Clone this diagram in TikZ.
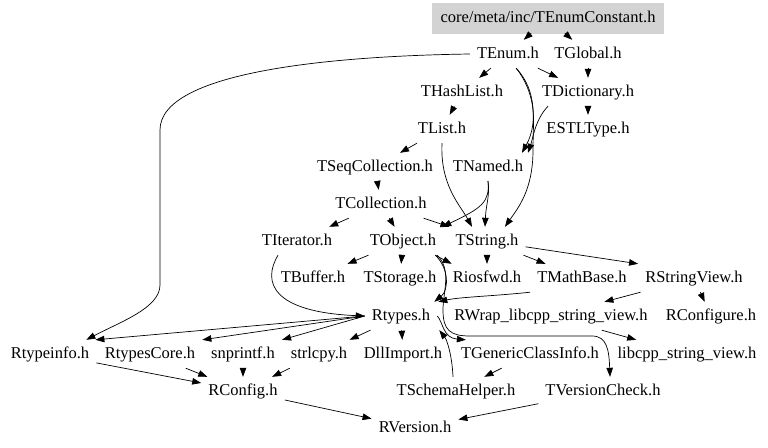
\documentclass[tikz,border=0pt]{standalone}
\usepackage{fontspec}
\setmainfont{Liberation Serif}
\usetikzlibrary{arrows.meta}
\definecolor{boxgray}{RGB}{211,211,211}
\tikzset{
  lbl/.style={font=\fontsize{16.5}{18}\selectfont, inner xsep=7pt, inner ysep=0pt,
    minimum height=28pt, text height=11.5pt, text depth=3.5pt},
  topbox/.style={lbl, fill=boxgray, draw=boxgray, minimum width=231pt, minimum height=30pt},
  arr/.style={-{Triangle[length=9pt,width=6.5pt]}, line width=0.7pt, black},
}
\begin{document}
\begin{tikzpicture}[x=1pt,y=-1pt]
\useasboundingbox (0,0) rectangle (768,447);
\node[topbox] (box) at (548,18) {core/meta/inc/TEnumConstant.h};
\node[lbl] (tenum) at (508,54) {TEnum.h};
\node[lbl] (tglobal) at (588,54) {TGlobal.h};
\node[lbl] (thashlist) at (462,92) {THashList.h};
\node[lbl] (tdictionary) at (588,92) {TDictionary.h};
\node[lbl] (tlist) at (442,129) {TList.h};
\node[lbl] (estltype) at (588,129) {ESTLType.h};
\node[lbl] (tseqcollection) at (375,167) {TSeqCollection.h};
\node[lbl] (tnamed) at (488,167) {TNamed.h};
\node[lbl] (tcollection) at (381,204) {TCollection.h};
\node[lbl] (titerator) at (297,241) {TIterator.h};
\node[lbl] (tobject) at (403,241) {TObject.h};
\node[lbl] (tstring) at (487,241) {TString.h};
\node[lbl] (tbuffer) at (313,278) {TBuffer.h};
\node[lbl] (tstorage) at (400,278) {TStorage.h};
\node[lbl] (riosfwd) at (487,278) {Riosfwd.h};
\node[lbl] (tmathbase) at (582,278) {TMathBase.h};
\node[lbl] (rstringview) at (694,278) {RStringView.h};
\node[lbl] (rtypes) at (401,316) {Rtypes.h};
\node[lbl] (rwrap) at (551,316) {RWrap\_libcpp\_string\_view.h};
\node[lbl] (rconfigure) at (711,316) {RConfigure.h};
\node[lbl] (rtypeinfo) at (50,354) {Rtypeinfo.h};
\node[lbl] (rtypescore) at (150,354) {RtypesCore.h};
\node[lbl] (snprintf) at (243,354) {snprintf.h};
\node[lbl] (strlcpy) at (319,354) {strlcpy.h};
\node[lbl] (dllimport) at (403,354) {DllImport.h};
\node[lbl] (tgenericclassinfo) at (530,354) {TGenericClassInfo.h};
\node[lbl] (libcpp) at (687,354) {libcpp\_string\_view.h};
\node[lbl] (rconfig) at (243,391) {RConfig.h};
\node[lbl] (tschemahelper) at (456,391) {TSchemaHelper.h};
\node[lbl] (tversioncheck) at (603,391) {TVersionCheck.h};
\node[lbl] (rversion) at (415,428) {RVersion.h};

% top
\draw[arr] (box) -- (tenum);
\draw[arr] (box) -- (tglobal);
% TEnum
\draw[arr] (tenum) -- (thashlist);
\draw[arr] (tenum) -- (tdictionary);
\draw[arr] (tenum.west) .. controls (330,56) and (160,72) .. (160,130) -- (160,285)
  .. controls (160,308) and (120,322) .. ([xshift=-10pt]rtypeinfo.north east);
\draw[arr] (tenum.-60) .. controls (532,88) and (540,120) .. ([xshift=34pt]tnamed.north);
\draw[arr] (tenum.-60) .. controls (538,92) and (533,118) .. (533,150)
  .. controls (533,190) and (518,208) .. ([xshift=18pt]tstring.north);
% TGlobal / TDictionary
\draw[arr] (tglobal) -- (tdictionary);
\draw[arr] (tdictionary) -- (estltype);
\draw[arr] ([xshift=-40pt]tdictionary.south) .. controls (535,120) and (533,138) .. ([xshift=40pt]tnamed.north);
% THashList / TList
\draw[arr] (thashlist) -- (tlist);
\draw[arr] (tlist) -- (tseqcollection);
\draw[arr] (tlist.south) .. controls (440,185) and (460,205) .. ([xshift=-15pt]tstring.north);
% TSeqCollection / TNamed / TCollection
\draw[arr] (tseqcollection) -- (tcollection);
\draw[arr] (tnamed.south) .. controls (490,196) and (486,204) .. ([xshift=-2pt]tstring.north);
\draw[arr] (tnamed.south) .. controls (490,202) and (482,208) .. ([xshift=-1pt]tobject.north east);
\draw[arr] (tcollection) -- (titerator);
\draw[arr] (tcollection) -- (tobject);
\draw[arr] (tcollection) -- ([xshift=1pt]tstring.north west);
% TIterator / TObject
\draw[arr] ([xshift=-19pt]titerator.south) .. controls (262,282) and (272,312) .. (rtypes.west);
\draw[arr] (tobject) -- (tbuffer);
\draw[arr] (tobject) -- (tstorage);
\draw[arr] ([xshift=-8pt]tobject.south east) -- ([xshift=6pt]riosfwd.north west);
\draw[arr] ([xshift=-8pt]tobject.south east) .. controls (449,268) and (449,290) .. ([xshift=-3pt]rtypes.north east);
\draw[arr] ([xshift=-6pt]tobject.south east) .. controls (452,270) and (443,292) .. (443,310)
  .. controls (443,330) and (450,336) .. (470,336) -- (592,336)
  .. controls (607,336) and (609,350) .. ([xshift=7pt]tversioncheck.north);
% TString
\draw[arr] (tstring) -- (riosfwd);
\draw[arr] (tstring) -- (tmathbase);
\draw[arr] (tstring) -- (rstringview.north west);
\draw[arr] (tmathbase.south west) .. controls (495,296) and (460,297) .. ([xshift=1pt]rtypes.north east);
\draw[arr] (rstringview) -- (rwrap);
\draw[arr] (rstringview) -- (rconfigure);
\draw[arr] (rwrap) -- (libcpp);
% Rtypes
\draw[arr] (rtypes.west) -- ([xshift=-1pt]rtypeinfo.north east);
\draw[arr] (rtypes.west) -- (rtypescore.north east);
\draw[arr] (rtypes.west) -- (snprintf.north east);
\draw[arr] (rtypes) -- (strlcpy);
\draw[arr] (rtypes) -- (dllimport);
\draw[arr] (rtypes.east) .. controls (443,322) and (443,338) .. ([xshift=12pt]tgenericclassinfo.north west);
\draw[arr] ([xshift=-3pt]tschemahelper.north) .. controls (452,355) and (447,340) .. ([xshift=2pt]rtypes.south east);
\draw[arr] (tgenericclassinfo) -- (tschemahelper);
% lower
\draw[arr] (rtypeinfo) -- (rconfig);
\draw[arr] (rtypescore) -- (rconfig);
\draw[arr] (snprintf) -- (rconfig);
\draw[arr] (strlcpy) -- (rconfig);
\draw[arr] (rconfig) -- (rversion);
\draw[arr] (tversioncheck) -- (rversion);
\end{tikzpicture}
\end{document}
